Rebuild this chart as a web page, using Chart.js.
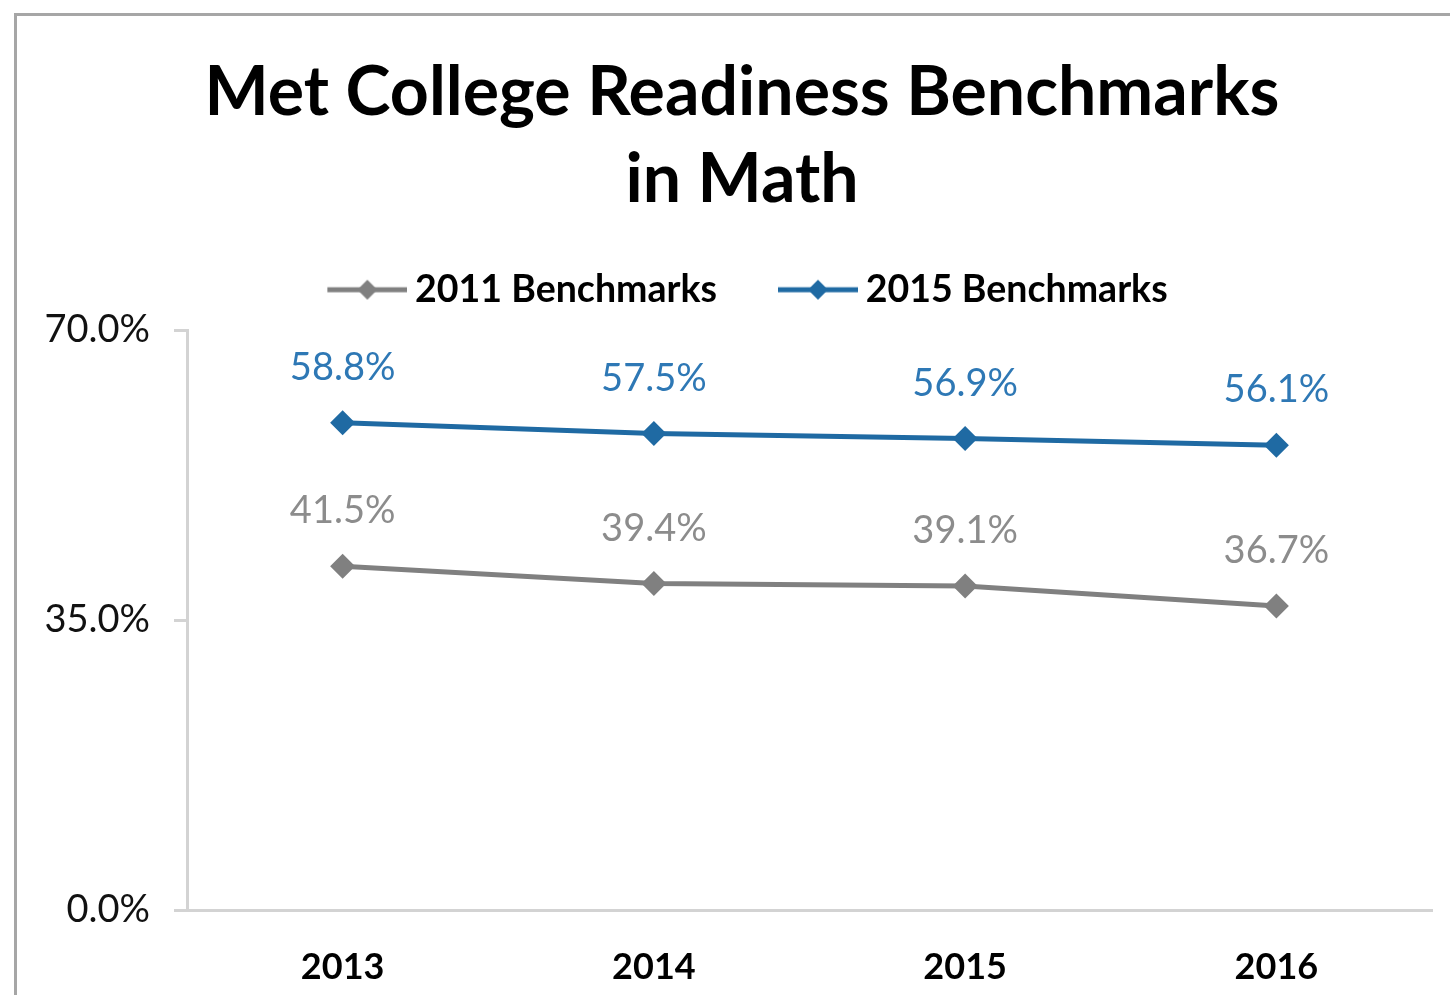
<!DOCTYPE html>
<html lang="en">
<head>
    <meta charset="UTF-8">
    <title>Met College Readiness Benchmarks in Math</title>
    <script src="https://cdn.jsdelivr.net/npm/chart.js"></script>
    <style>
        body { margin: 0; background: #fff; }
        .frame {
            position: absolute; left: 14px; top: 13px; width: 1500px; height: 1100px;
            border-left: 3px solid #a6a6a6; border-top: 3px solid #a6a6a6;
        }
        .chart-box { position: absolute; left: 0; top: 0; width: 1450px; height: 995px; }
    </style>
</head>
<body>
    <div class="frame"></div>
    <div class="chart-box">
        <canvas id="mathChart"></canvas>
    </div>

<script>
    const anos = ['2013', '2014', '2015', '2016'];
    const bench2011 = [41.5, 39.4, 39.1, 36.7];
    const bench2015 = [58.8, 57.5, 56.9, 56.1];
    const yTicks = [0, 35, 70];

    const cinza = '#808080';
    const azul = '#1f6aa3';

    // icone da legenda: linha com losango, encostado a direita da imagem
    function iconeLegenda(cor) {
        const c = document.createElement('canvas');
        c.width = 102; c.height = 26;
        const g = c.getContext('2d');
        g.strokeStyle = cor; g.lineWidth = 5;
        g.beginPath(); g.moveTo(22, 13); g.lineTo(102, 13); g.stroke();
        g.fillStyle = cor;
        g.beginPath(); g.moveTo(62, 3); g.lineTo(72, 13); g.lineTo(62, 23); g.lineTo(52, 13); g.closePath(); g.fill();
        return c;
    }

    // espaco extra entre a legenda e o grafico
    const ajustes = {
        id: 'ajustes',
        beforeInit(chart) {
            Chart.layouts.addBox(chart, {
                position: 'top',
                weight: 0,
                fullSize: true,
                options: {},
                isHorizontal() { return true; },
                update(maxWidth) { this.width = maxWidth; this.height = 11.5; },
                draw() {}
            });
        },
        afterLayout(chart) {
            // deixa os rotulos do eixo y passarem da margem
            chart.scales.y.left = 0;
        }
    };

    const rotulos = {
        id: 'rotulos',
        afterDatasetsDraw(chart) {
            const ctx = chart.ctx;
            const cores = ['#8c8c8c', '#2e78b5'];
            ctx.save();
            ctx.font = '38px Lato';
            ctx.textAlign = 'center';
            ctx.textBaseline = 'middle';
            chart.data.datasets.forEach((ds, i) => {
                chart.getDatasetMeta(i).data.forEach((pt, j) => {
                    ctx.fillStyle = cores[i];
                    ctx.fillText(ds.data[j].toFixed(1) + '%', pt.x, pt.y - 55);
                });
            });
            ctx.restore();
        }
    };

    const ctx = document.getElementById('mathChart').getContext('2d');
    new Chart(ctx, {
        type: 'line',
        data: {
            labels: anos,
            datasets: [
                {
                    label: '2011 Benchmarks',
                    data: bench2011,
                    borderColor: cinza,
                    backgroundColor: cinza,
                    borderWidth: 5,
                    pointStyle: 'rectRot',
                    pointRadius: 12.5,
                    pointBorderWidth: 0
                },
                {
                    label: '2015 Benchmarks',
                    data: bench2015,
                    borderColor: azul,
                    backgroundColor: azul,
                    borderWidth: 5,
                    pointStyle: 'rectRot',
                    pointRadius: 12.5,
                    pointBorderWidth: 0
                }
            ]
        },
        options: {
            responsive: true,
            maintainAspectRatio: false,
            animation: false,
            layout: { padding: { left: 52, right: 18, top: 0, bottom: 0 } },
            plugins: {
                title: {
                    display: true,
                    text: ['Met College Readiness Benchmarks', 'in Math'],
                    color: '#000',
                    font: { family: 'Lato', size: 68, weight: 'bold', lineHeight: '87px' },
                    padding: { top: 50, bottom: -3 }
                },
                legend: {
                    display: true,
                    labels: {
                        color: '#000',
                        font: { family: 'Lato', size: 37.5, weight: 'bold' },
                        usePointStyle: true,
                        pointStyleWidth: 80,
                        padding: 50,
                        generateLabels(chart) {
                            return chart.data.datasets.map((ds, i) => ({
                                text: ds.label,
                                pointStyle: iconeLegenda(ds.borderColor),
                                fontColor: '#000',
                                datasetIndex: i,
                                lineWidth: 0
                            }));
                        }
                    }
                },
                tooltip: { enabled: false }
            },
            scales: {
                x: {
                    offset: true,
                    grid: { display: false },
                    border: { display: true, color: '#d3d3d3', width: 3 },
                    ticks: {
                        color: '#000',
                        font: { family: 'Lato', size: 36, weight: 'bold' },
                        padding: 28
                    },
                    afterFit(scale) { scale.height = 85; }
                },
                y: {
                    min: 0,
                    max: 70,
                    afterBuildTicks(scale) { scale.ticks = yTicks.map(v => ({ value: v })); },
                    grid: { display: true, drawOnChartArea: false, drawTicks: true, tickLength: 13, color: '#d3d3d3', lineWidth: 3 },
                    border: { display: true, color: '#d3d3d3', width: 3 },
                    ticks: {
                        color: '#111',
                        font: { family: 'Lato', size: 38 },
                        padding: 24,
                        callback: v => v.toFixed(1) + '%'
                    },
                    afterFit(scale) { scale.width = 135; }
                }
            }
        },
        plugins: [ajustes, rotulos]
    });
</script>
</body>
</html>
